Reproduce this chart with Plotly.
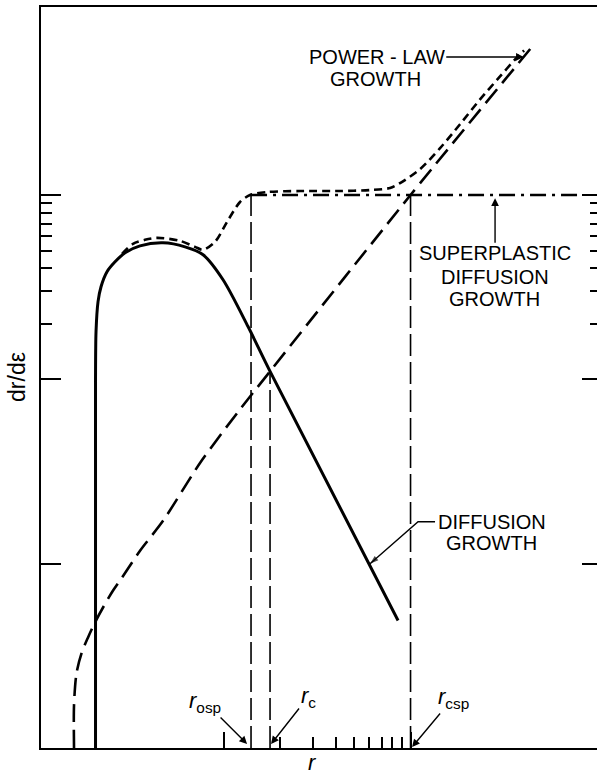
import numpy as np
import plotly.graph_objects as go

# ---- curves (r, dr/de) on log-log axes ----
# diffusion growth (solid)
diff_r = [2.068, 2.068, 2.068, 2.081, 2.133, 2.213, 2.382, 2.630, 2.974, 3.577,
          4.748, 6.225, 7.771, 9.94, 13.52, 17.73, 85.74]
diff_y = [1.0, 40.8, 97.6, 181.7, 264, 318, 383.6, 434, 486, 530,
          550, 523, 474, 347, 193.4, 110.5, 4.92]

# power-law growth (long dash)
pl_r = [1.587, 1.587, 1.636, 1.740, 1.886, 2.055, 2.268, 2.566, 2.866, 3.577,
        4.748, 7.487, 11.81, 17.73, 100.0, 451.9]
pl_y = [1.0, 1.708, 2.544, 3.263, 3.981, 4.799, 5.783, 7.146, 8.403, 11.76,
        17.08, 35.15, 65.5, 110.5, 1000, 6468]

# combined rate (short dash)
sum_r = [2.866, 3.281, 3.803, 4.41, 5.853, 7.04, 7.771, 9.005, 10.44, 12.25,
         13.86, 17.09, 25.66, 41.98, 60.74, 77.71, 87.84, 112.4, 143.8, 183.9,
         235.3, 301.0, 362.1, 404.6]
sum_y = [479.8, 543.5, 571.3, 585.6, 564.1, 523.4, 504.3, 557, 714.5, 916.5,
         1000, 1038, 1051, 1051, 1064, 1091, 1160, 1382, 1795, 2420,
         3303, 4398, 5435, 6078]

# superplastic diffusion growth (dash-dot plateau)
sp_r = [14.03, 836.7]
sp_y = [1000, 1000]

# characteristic radii
r_osp, r_c, r_csp = 14.03, 17.73, 100.0
y_floor, y_c, y_sp = 1.0, 110.5, 1000.0

# callout leader for the diffusion-growth label (ends on the solid curve)
call_r = [135.2, 109.7, 60.74]
call_y = [16.87, 16.87, 10.0]

# axis ticks
x_major = [10, 100]
x_minor = [20, 30, 40, 50, 60, 70, 80, 90]
y_major = [10, 100, 1000]
y_minor = [200, 300, 400, 500, 600, 700, 800, 900]

INK = "black"
FONT = "Liberation Sans, Arial, sans-serif"

fig = go.Figure()

fig.add_trace(go.Scatter(x=pl_r, y=pl_y, mode="lines",
                         line=dict(color=INK, width=2.6, dash="18px,8px",
                                   shape="spline", smoothing=0.8)))
fig.add_trace(go.Scatter(x=sum_r, y=sum_y, mode="lines",
                         line=dict(color=INK, width=2.6, dash="8px,5px",
                                   shape="spline", smoothing=0.8)))
fig.add_trace(go.Scatter(x=diff_r, y=diff_y, mode="lines",
                         line=dict(color=INK, width=3, shape="spline", smoothing=0.8)))
fig.add_trace(go.Scatter(x=sp_r, y=sp_y, mode="lines", yaxis="y2",
                         line=dict(color=INK, width=2.6, dash="16px,6px,3px,6px")))

# vertical dashed markers
for rv, ytop in [(r_osp, y_sp), (r_c, y_c), (r_csp, y_sp)]:
    fig.add_trace(go.Scatter(x=[rv, rv], y=[y_floor, ytop], mode="lines",
                             line=dict(color=INK, width=1.6, dash="22px,6px")))

# leader with an arrowhead at its end
fig.add_trace(go.Scatter(x=call_r, y=call_y, mode="lines+markers",
                         line=dict(color=INK, width=1.4),
                         marker=dict(symbol="arrow", size=[0, 0, 9], color=INK,
                                     angleref="previous", line=dict(width=0))))

lg = np.log10
annotations = []


def pointer(xd, yd, text, ax, ay, size=20, height=None):
    """Label placed (ax, ay) px away from the tip, with an arrow to the tip."""
    annotations.append(dict(x=lg(xd), y=lg(yd), xref="x", yref="y", text=text,
                            showarrow=True, ax=ax, ay=ay, arrowhead=2,
                            arrowsize=1.1, arrowwidth=1.4, arrowcolor=INK,
                            height=height,
                            font=dict(family=FONT, size=size, color=INK)))


def label(x, y, text, size=20, **kw):
    annotations.append(dict(x=x, y=y, xref="paper", yref="paper", text=text,
                            showarrow=False, xanchor="center", yanchor="middle",
                            font=dict(family=FONT, size=size, color=INK), **kw))


pointer(403.0, 5610, "POWER - LAW", -147, 0, height=18)
pointer(283.1, 960, "SUPERPLASTIC", 0, 55, height=18)
pointer(13.36, 1.051, "<i>r</i><sub>osp</sub>", -42, -42, size=22)
pointer(17.95, 1.051, "<i>r</i><sub>c</sub>", 37, -47, size=22)
pointer(101.9, 1.0125, "<i>r</i><sub>csp</sub>", 41, -49, size=22)

label(0.6025, 0.9035, "GROWTH", height=18)
label(0.8165, 0.6363, "DIFFUSION", height=18)
label(0.8165, 0.606, "GROWTH", height=18)
label(0.811, 0.305, "DIFFUSION", height=18)
label(0.811, 0.2767, "GROWTH", height=18)
label(0.489, -0.0202, "<i>r</i>", size=22)
label(-0.0432, 0.5007, "dr/dε", size=23, textangle=-90)

common = dict(type="log", showticklabels=False, showgrid=False, zeroline=False,
              ticks="inside", tickcolor=INK)

fig.update_layout(
    width=597, height=778,
    margin=dict(l=41, r=0, t=7, b=30),
    paper_bgcolor="white", plot_bgcolor="white",
    showlegend=False,
    xaxis=dict(range=[0.024, 2.997], showline=True, linecolor=INK, linewidth=2,
               mirror=True, tickvals=x_major, ticklen=16, tickwidth=1.8,
               minor=dict(tickvals=x_minor, ticklen=11, tickwidth=1.5,
                          ticks="inside", tickcolor=INK, showgrid=False),
               **common),
    yaxis=dict(range=[0, 4.02], showline=True, linecolor=INK, linewidth=2,
               tickvals=y_major, ticklen=20, tickwidth=1.8,
               minor=dict(tickvals=y_minor, ticklen=11, tickwidth=1.5,
                          ticks="inside", tickcolor=INK, showgrid=False),
               **common),
    yaxis2=dict(range=[0, 4.02], overlaying="y", side="right", showline=False,
                tickvals=y_major, ticklen=15, tickwidth=1.8,
                minor=dict(tickvals=y_minor, ticklen=7, tickwidth=1.5,
                           ticks="inside", tickcolor=INK, showgrid=False),
                **common),
    annotations=annotations,
)

fig.write_html("out.html", config={"displayModeBar": False})
